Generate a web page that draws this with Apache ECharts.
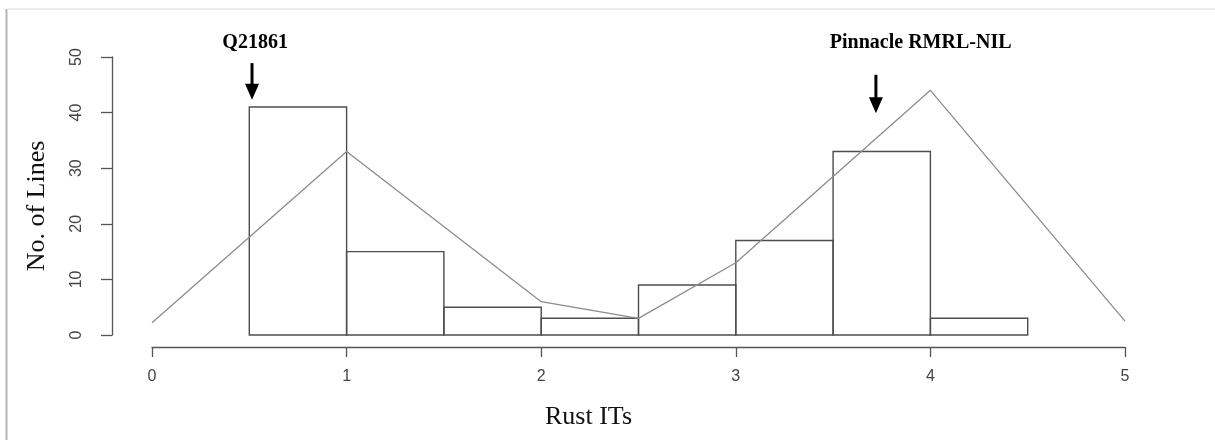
<!DOCTYPE html>
<html>
<head>
<meta charset="utf-8">
<script src="https://cdn.jsdelivr.net/npm/echarts@6/dist/echarts.min.js"></script>
<style>
html,body{margin:0;padding:0;background:#fff;}
#chart{width:1215px;height:440px;}
</style>
</head>
<body>
<div id="chart"></div>
<script>
// ---- data ----
var binLeft  = [0.5, 1.0, 1.5, 2.0, 2.5, 3.0, 3.5, 4.0];
var binRight = [1.0, 1.5, 2.0, 2.5, 3.0, 3.5, 4.0, 4.5];
var counts   = [41, 15, 5, 3, 9, 17, 33, 3];
var polyX    = [0, 1, 2, 2.5, 3, 4, 5];
var polyY    = [2.2, 33, 6, 3, 13, 44, 2.5];
var xTicks   = [0, 1, 2, 3, 4, 5];
var yTicks   = [0, 10, 20, 30, 40, 50];
var annLabels = ['Q21861', 'Pinnacle RMRL-NIL'];
var annTextX  = [0.53, 3.95];
var annArrowX = [0.514, 3.72];
var annArrowTop = [48.9, 46.8];
var annArrowBottom = [42.3, 39.9];

var histData = binLeft.map(function (l, i) { return [l, binRight[i], counts[i]]; });
var polyData = polyX.map(function (x, i) { return [x, polyY[i]]; });
var annData = annLabels.map(function (t, i) { return [annTextX[i], 52.5, annArrowX[i], annArrowTop[i], annArrowBottom[i]]; });

var chart = echarts.init(document.getElementById('chart'), null, {renderer: 'canvas'});
var axisColor = '#555';
var option = {
  animation: false,
  backgroundColor: '#fff',
  grid: {left: 152, right: 90, top: 57, bottom: 105},
  xAxis: {
    type: 'value', min: 0, max: 5, interval: 1, offset: 12,
    name: 'Rust ITs', nameLocation: 'middle', nameGap: 57,
    nameTextStyle: {fontFamily: 'Liberation Serif', fontSize: 26, color: '#111', padding: [0, 100, 0, 0]},
    axisLine: {show: true, onZero: false, lineStyle: {color: axisColor, width: 1.3}},
    axisTick: {show: true, length: 10, lineStyle: {color: axisColor, width: 1.3}},
    axisLabel: {margin: 22, fontFamily: 'Liberation Sans', fontSize: 16, color: '#444',
      formatter: function (v) { return xTicks.indexOf(v) >= 0 ? String(v) : ''; }},
    splitLine: {show: false}
  },
  yAxis: {
    type: 'value', min: 0, max: 50, interval: 10, offset: 40,
    name: 'No. of Lines', nameLocation: 'middle', nameGap: 62,
    nameTextStyle: {fontFamily: 'Liberation Serif', fontSize: 26, color: '#111', padding: [0, 20, 0, 0]},
    axisLine: {show: true, onZero: false, lineStyle: {color: axisColor, width: 1.3}},
    axisTick: {show: true, length: 11, lineStyle: {color: axisColor, width: 1.3}},
    axisLabel: {rotate: 90, margin: 27, fontFamily: 'Liberation Sans', fontSize: 16, color: '#444',
      formatter: function (v) { return yTicks.indexOf(v) >= 0 ? String(v) : ''; }},
    splitLine: {show: false}
  },
  graphic: [
    {type: 'rect', left: 5, top: 9, z: 100, shape: {width: 3, height: 431},
     style: {fill: new echarts.graphic.LinearGradient(0, 0, 1, 0, [{offset: 0, color: '#e6e6e6'}, {offset: 0.5, color: '#b8b8b8'}, {offset: 1, color: '#e6e6e6'}])}},
    {type: 'rect', left: 7, top: 8, z: 100, shape: {width: 1208, height: 2},
     style: {fill: '#ececec'}}
  ],
  series: [
    {
      type: 'custom',
      data: histData,
      encode: {x: [0, 1], y: 2},
      renderItem: function (params, api) {
        var p0 = api.coord([api.value(0), api.value(2)]);
        var p1 = api.coord([api.value(1), 0]);
        return {
          type: 'rect',
          shape: {x: p0[0], y: p0[1], width: p1[0] - p0[0], height: p1[1] - p0[1]},
          style: {fill: 'rgba(0,0,0,0)', stroke: '#4d4d4d', lineWidth: 1.4}
        };
      },
      z: 2
    },
    {
      type: 'line',
      data: polyData,
      symbol: 'none',
      lineStyle: {color: '#8c8c8c', width: 1.3},
      z: 3
    },
    {
      type: 'custom',
      data: annData,
      clip: false,
      renderItem: function (params, api) {
        var t = api.coord([api.value(0), api.value(1)]);
        var a0 = api.coord([api.value(2), api.value(3)]);
        var a1 = api.coord([api.value(2), api.value(4)]);
        var hh = 16, hw = 7;
        return {
          type: 'group',
          children: [
            {type: 'text', style: {text: annLabels[params.dataIndex], x: t[0], y: t[1],
              textAlign: 'center', textVerticalAlign: 'middle',
              font: 'bold 20px "Liberation Serif"', fill: '#000'}},
            {type: 'line', shape: {x1: a0[0], y1: a0[1], x2: a1[0], y2: a1[1] - hh + 2},
              style: {stroke: '#000', lineWidth: 3}},
            {type: 'polygon', shape: {points: [[a1[0] - hw, a1[1] - hh], [a1[0] + hw, a1[1] - hh], [a1[0], a1[1]]]},
              style: {fill: '#000'}}
          ]
        };
      },
      z: 5
    }
  ]
};
chart.setOption(option);
</script>
</body>
</html>
